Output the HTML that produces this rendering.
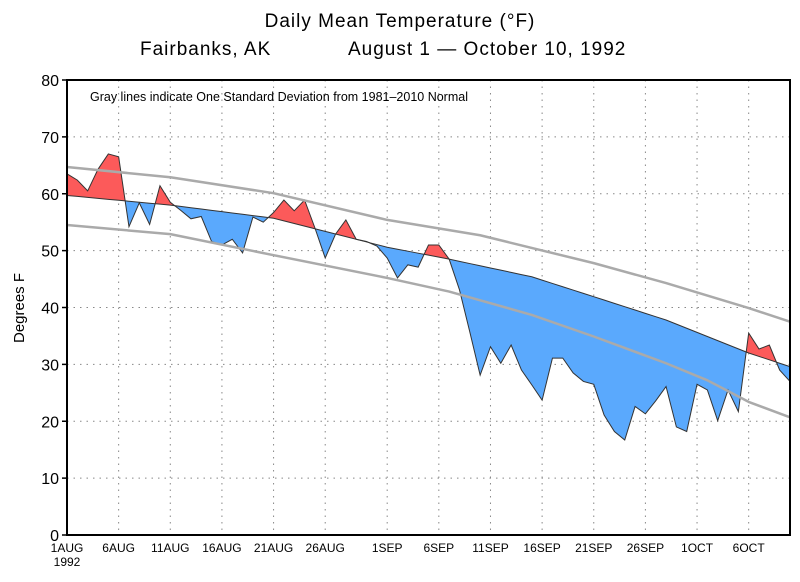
<!DOCTYPE html>
<html><head><meta charset="utf-8"><style>
body{margin:0;background:#fff;}
svg text{font-family:"Liberation Sans",sans-serif;fill:#000;}
</style></head><body>
<svg id="chart" width="800" height="577" viewBox="0 0 800 577">
<text x="400" y="27" text-anchor="middle" font-size="19" letter-spacing="1">Daily Mean Temperature (°F)</text>
<text x="140" y="55" font-size="19" letter-spacing="1">Fairbanks, AK</text>
<text x="348" y="55" font-size="19" letter-spacing="1">August 1 — October 10, 1992</text>
<text x="24" y="308" text-anchor="middle" font-size="15" transform="rotate(-90 24 308)">Degrees F</text>
<g id="grid"></g><g id="marks"></g><g id="axes"></g>
<text x="90" y="101" font-size="12.5">Gray lines indicate One Standard Deviation from 1981–2010 Normal</text>
</svg>
<script>
const actual=[63.5,62.4,60.5,64.3,67,66.5,54.2,58.4,54.6,61.4,58.5,57.1,55.6,56,51.6,51,52,49.6,55.9,55,56.7,58.9,57,58.9,54,48.7,52.9,55.4,52,51.6,50.8,48.7,45.2,47.5,47.1,51,51,48.5,43.1,35.7,28.1,33.1,30.2,33.4,29,26.4,23.7,31.1,31.1,28.5,27,26.5,21.1,18.2,16.7,22.6,21.3,23.6,26.1,19,18.2,26.5,25.5,20.1,25.5,21.7,35.5,32.7,33.4,29,27];
const keyDays=[0,10,20,31,37,45,51,58,66,70];
const normal=[59.7,58.0,55.7,50.6,48.5,45.4,41.9,37.8,32.0,29.6];
const upperDays=[0,10,20,31,40,51,58,66,70];
const upper=[64.7,62.9,60.1,55.4,52.7,47.8,44.3,39.9,37.5];
const lowerDays=[0,10,20,31,37,45,51,58,62,66,70];
const lower=[54.5,52.9,49.2,45.2,42.8,38.7,34.9,30.2,27.2,23.4,20.7];
const yTicks=[0,10,20,30,40,50,60,70,80];
const xTickDays=[0,5,10,15,20,25,31,36,41,46,51,56,61,66];
const xTickLabels=["1AUG","6AUG","11AUG","16AUG","21AUG","26AUG","1SEP","6SEP","11SEP","16SEP","21SEP","26SEP","1OCT","6OCT"];

const L=67,R=790,T=80,B=535,ND=70;
const X=d=>L+(R-L)*d/ND;
const Y=v=>B-(B-T)*v/80;
const NS="http://www.w3.org/2000/svg";
function mk(tag,attrs,parent){const e=document.createElementNS(NS,tag);for(const k in attrs)e.setAttribute(k,attrs[k]);parent.appendChild(e);return e;}
function interp(days,vals,d){for(let i=0;i<days.length-1;i++){if(d>=days[i]&&d<=days[i+1]){const t=(d-days[i])/(days[i+1]-days[i]);return vals[i]+t*(vals[i+1]-vals[i]);}}return vals[vals.length-1];}
const grid=document.getElementById('grid'),marks=document.getElementById('marks'),axes=document.getElementById('axes');

yTicks.forEach(v=>{
 if(v>0&&v<80){const g=mk('line',{x1:L,x2:R,y1:Y(v),y2:Y(v),stroke:'#888','stroke-width':1,'stroke-dasharray':'1.5,5'},grid);
 
 }
 const tk=mk('line',{x1:L-5,x2:L,y1:Y(v),y2:Y(v),stroke:'#000','stroke-width':1.5},axes);
 
 
 const t=mk('text',{x:L-8,y:Y(v)+6,'text-anchor':'end','font-size':16},axes);t.textContent=v;
 
 
});
xTickDays.forEach((d,i)=>{
 if(d>0){const g=mk('line',{x1:X(d),x2:X(d),y1:T,y2:B,stroke:'#888','stroke-width':1,'stroke-dasharray':'1.5,5'},grid);
 
 }
 const t=mk('text',{x:X(d),y:552,'text-anchor':'middle','font-size':12},axes);t.textContent=xTickLabels[i];
 
 
});
const yr=mk('text',{x:X(0),y:566,'text-anchor':'middle','font-size':12},axes);yr.textContent='1992';



const nd=[];for(let d=0;d<=ND;d++)nd.push(interp(keyDays,normal,d));
let actPts=actual.map((v,d)=>X(d)+','+Y(v));
let normPts=nd.map((v,d)=>X(d)+','+Y(v));
const poly=actPts.concat(normPts.slice().reverse()).join(' ');
const defs=mk('defs',{},marks);
const cpA=mk('clipPath',{id:'above'},defs);
mk('polygon',{points:normPts.join(' ')+' '+R+','+T+' '+L+','+T},cpA);
const cpB=mk('clipPath',{id:'below'},defs);
mk('polygon',{points:normPts.join(' ')+' '+R+','+B+' '+L+','+B},cpB);
const red=mk('polygon',{points:poly,fill:'#fc5a5a','clip-path':'url(#above)'},marks);


const blue=mk('polygon',{points:poly,fill:'#5aa9fd','clip-path':'url(#below)'},marks);


const al=mk('polyline',{points:actPts.join(' '),fill:'none',stroke:'#333','stroke-width':1},marks);


const nl=mk('polyline',{points:normPts.join(' '),fill:'none',stroke:'#333','stroke-width':1},marks);


function band(days,vals,name){const pts=days.map((d,i)=>X(d)+','+Y(vals[i])).join(' ');
 const p=mk('polyline',{points:pts,fill:'none',stroke:'#aaa','stroke-width':2.5,'stroke-linejoin':'round'},marks);
 
 }
band(upperDays,upper,'upper-std-line');
band(lowerDays,lower,'lower-std-line');
const fr=mk('rect',{x:L,y:T,width:R-L,height:B-T,fill:'none',stroke:'#000','stroke-width':2},axes);


</script>
</body></html>
